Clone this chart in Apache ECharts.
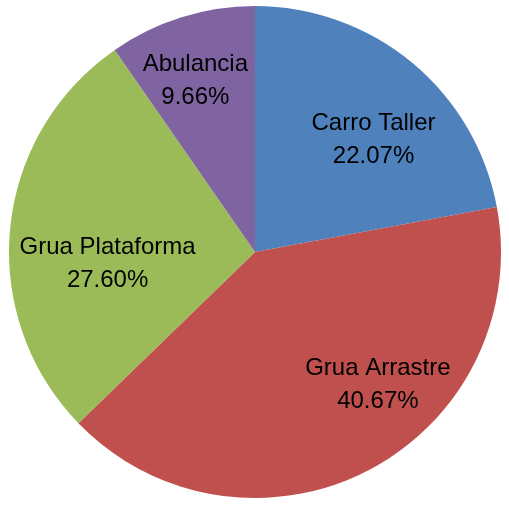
<!DOCTYPE html>
<html>
<head>
<meta charset="utf-8">
<script src="https://cdn.jsdelivr.net/npm/echarts@6/dist/echarts.min.js"></script>
<style>
    html, body { margin: 0; padding: 0; background: #fff; }
    #chart { width: 509px; height: 505px; }
</style>
</head>
<body>
<div id="chart"></div>
<script>
// datos del grafico
var categories = ['Carro Taller', 'Grua Arrastre', 'Grua Plataforma', 'Abulancia'];
var values = [22.07, 40.67, 27.60, 9.66];
var colors = ['#4F81BD', '#C0504D', '#9BBB59', '#8064A2'];
// ajuste de etiquetas (px) respecto a la posicion 'inside'
var labelOffsets = [[38, -15], [65, 21], [-22, 24], [-22, -51]];

var chart = echarts.init(document.getElementById('chart'));

var total = values.reduce(function (a, b) { return a + b; }, 0);
var pieData = [];
for (var i = 0; i < categories.length; i++) {
    pieData.push({
        name: categories[i],
        value: values[i],
        itemStyle: { color: colors[i] },
        label: { offset: labelOffsets[i] }
    });
}

var option = {
    animation: false,
    series: [{
        type: 'pie',
        center: [255, 252],
        radius: 246,
        startAngle: 90,
        clockwise: true,
        avoidLabelOverlap: false,
        itemStyle: {
            borderWidth: 0
        },
        label: {
            show: true,
            position: 'inside',
            color: '#000',
            fontFamily: 'Liberation Sans',
            fontSize: 24,
            lineHeight: 33,
            formatter: function (p) {
                return p.name + '\n' + (p.value / total * 100).toFixed(2) + '%';
            }
        },
        labelLine: { show: false },
        emphasis: { disabled: true },
        data: pieData
    }]
};
chart.setOption(option);
</script>
</body>
</html>
